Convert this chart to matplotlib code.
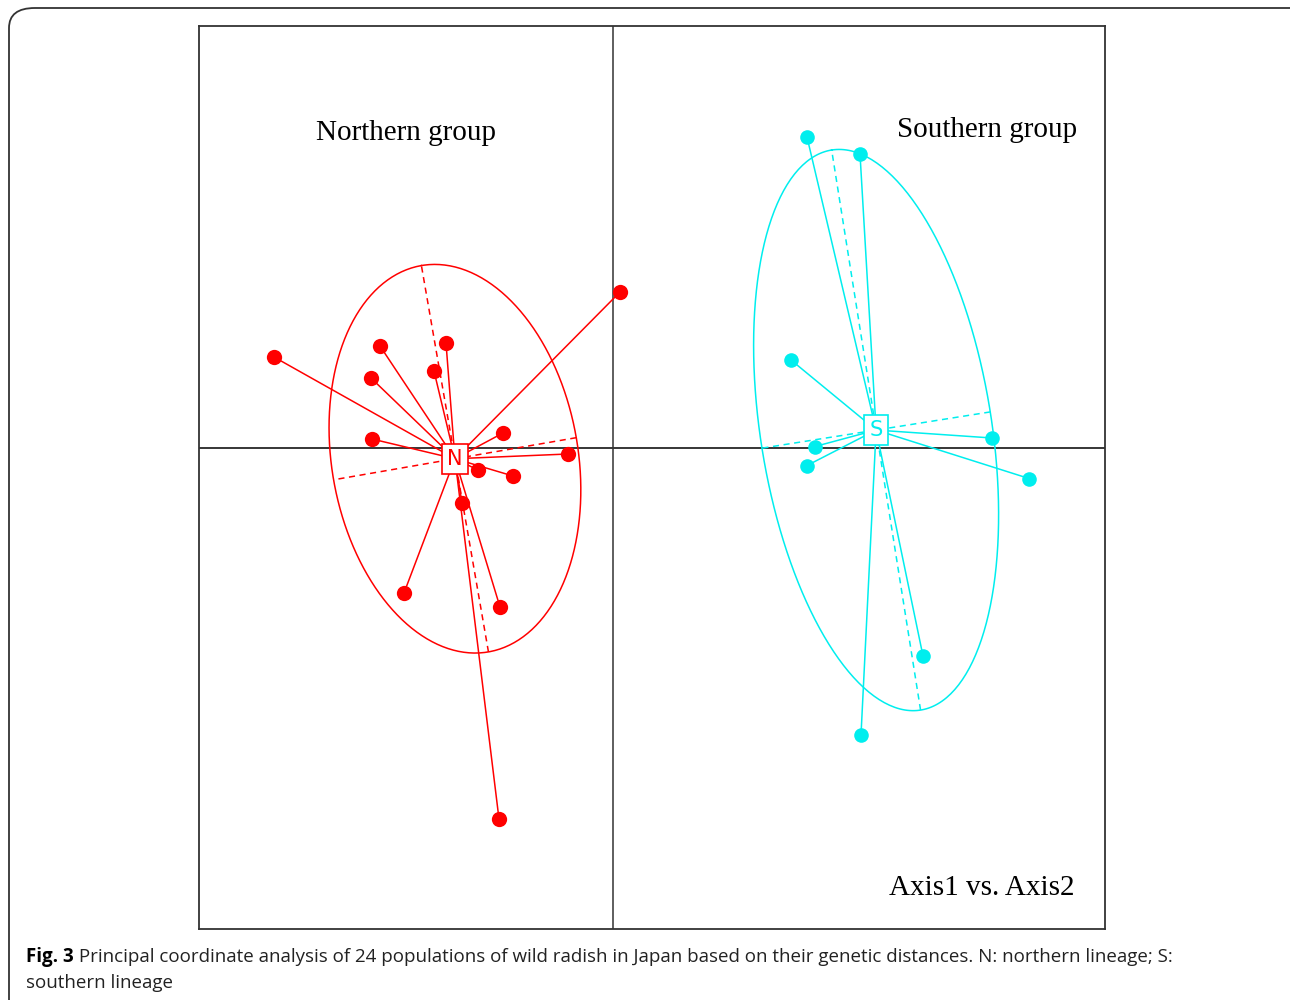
import numpy as np
import matplotlib
matplotlib.use("Agg")
import matplotlib.pyplot as plt
from matplotlib.patches import FancyBboxPatch

# --- PCoA scores (Axis1, Axis2) ---
north_x = [-3.39, -2.33, -2.42, -1.67, -1.79, -2.41, -1.10, -0.45,
           -1.35, -1.00, -1.51, -2.09, -1.13, -1.14, 0.07]
north_y = [0.91, 1.02, 0.70, 1.05, 0.77, 0.09, 0.15, -0.06,
           -0.22, -0.28, -0.55, -1.45, -1.59, -3.71, 1.56]

south_x = [1.94, 2.47, 1.78, 2.02, 1.94, 3.79, 4.16, 3.10, 2.48]
south_y = [3.11, 2.94, 0.88, 0.015, -0.175, 0.10, -0.305, -2.08, -2.87]

group_labels = ["N", "S"]
group_titles = ["Northern group", "Southern group"]
group_colors = ["#ff0000", "#00eeee"]
caption_bold = "Fig. 3"
caption_rest = (" Principal coordinate analysis of 24 populations of wild radish in Japan "
                "based on their genetic distances. N: northern lineage; S:")
caption_line2 = "southern lineage"

CELLIPSE = 1.5  # ellipse size, like ade4 s.class

fig = plt.figure(figsize=(12.9, 10), dpi=100)

# outer rounded panel frame
frame = FancyBboxPatch((9 / 1290, -0.05), 1.2, 1.05 - 8 / 1000,
                       boxstyle="round,pad=0,rounding_size=0.02",
                       transform=fig.transFigure, fill=False,
                       edgecolor="#333333", linewidth=1.3)
fig.patches.append(frame)

ax = fig.add_axes([199 / 1290, 71 / 1000, 906 / 1290, 903 / 1000])
ax.set_xlim(-4.14, 4.92)
ax.set_ylim(-4.81, 4.22)
ax.set_xticks([])
ax.set_yticks([])
for sp in ax.spines.values():
    sp.set_color("#333333")
    sp.set_linewidth(1.3)

ax.axhline(0, color="black", lw=1.1, zorder=1)
ax.axvline(0, color="#333333", lw=1.1, zorder=1)


def draw_group(xs, ys, col, label, msize):
    xs = np.asarray(xs)
    ys = np.asarray(ys)
    cx, cy = xs.mean(), ys.mean()
    # star lines from centroid
    for x, y in zip(xs, ys):
        ax.plot([cx, x], [cy, y], color=col, lw=1.1, zorder=2)
    ax.plot(xs, ys, "o", color=col, ms=msize, mec="none", zorder=3)
    # covariance ellipse
    cov = np.cov(np.vstack([xs, ys]), bias=True)
    vals, vecs = np.linalg.eigh(cov)
    t = np.linspace(0, 2 * np.pi, 300)
    a = CELLIPSE * np.sqrt(vals[1])
    b = CELLIPSE * np.sqrt(vals[0])
    v1, v0 = vecs[:, 1], vecs[:, 0]
    ex = cx + a * np.cos(t) * v1[0] + b * np.sin(t) * v0[0]
    ey = cy + a * np.cos(t) * v1[1] + b * np.sin(t) * v0[1]
    ax.plot(ex, ey, color=col, lw=1.1, zorder=2)
    # ellipse axes, dashed
    ax.plot([cx - a * v1[0], cx + a * v1[0]], [cy - a * v1[1], cy + a * v1[1]],
            color=col, lw=1.1, ls=(0, (4, 3)), zorder=2)
    ax.plot([cx - b * v0[0], cx + b * v0[0]], [cy - b * v0[1], cy + b * v0[1]],
            color=col, lw=1.1, ls=(0, (4, 3)), zorder=2)
    ax.text(cx, cy, label, color=col, fontsize=15, ha="center", va="center",
            family="DejaVu Sans", zorder=5,
            bbox=dict(boxstyle="square,pad=0.25", fc="white", ec=col, lw=1.2))


draw_group(north_x, north_y, group_colors[0], group_labels[0], 11)
draw_group(south_x, south_y, group_colors[1], group_labels[1], 10.5)

serif = "Liberation Serif"
ax.text(-2.07, 3.15, group_titles[0], fontsize=21, family=serif,
        ha="center", va="center")
ax.text(3.74, 3.18, group_titles[1], fontsize=21, family=serif,
        ha="center", va="center")
ax.text(3.69, -4.40, "Axis1 vs. Axis2", fontsize=21, family=serif,
        ha="center", va="center")

# caption
cap_y = 1 - 957 / 1000
cap = fig.text(26 / 1290, cap_y, caption_bold, fontsize=13.5,
               family="Open Sans", weight="bold", va="center", ha="left")
fig.canvas.draw()
bb = cap.get_window_extent()
fig.text(bb.x1 / 1290, cap_y, caption_rest, fontsize=13.5,
         family="Open Sans", va="center", ha="left", color="#222222")
fig.text(26 / 1290, 1 - 983 / 1000, caption_line2, fontsize=13.5,
         family="Open Sans", va="center", ha="left", color="#222222")

fig.savefig("out.png", dpi=100)
